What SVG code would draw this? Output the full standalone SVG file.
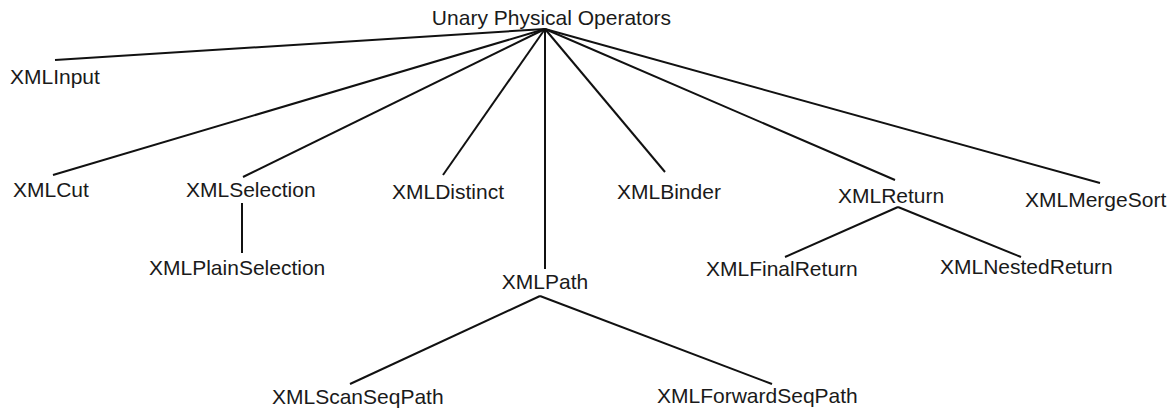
<svg xmlns="http://www.w3.org/2000/svg" width="1176" height="409" viewBox="0 0 1176 409">
<style>
.lbl{font-family:"Liberation Sans",Arial,sans-serif;font-size:21px;fill:#1a1a1a}
.edge{stroke:#111;stroke-width:2;fill:none}
</style>
<rect width="1176" height="409" fill="#fff"/>
<g id="connectors">
<line class="edge" x1="545" y1="29" x2="55" y2="60"/>
<line class="edge" x1="545" y1="29" x2="53" y2="175"/>
<line class="edge" x1="545" y1="29" x2="243" y2="177"/>
<line class="edge" x1="545" y1="29" x2="443" y2="175"/>
<line class="edge" x1="545" y1="29" x2="545" y2="269"/>
<line class="edge" x1="545" y1="29" x2="665" y2="172"/>
<line class="edge" x1="545" y1="29" x2="895" y2="180"/>
<line class="edge" x1="545" y1="29" x2="1100" y2="183"/>
<line class="edge" x1="242" y1="203" x2="242" y2="253"/>
<line class="edge" x1="898" y1="207" x2="785" y2="257"/>
<line class="edge" x1="898" y1="207" x2="1021" y2="257"/>
<line class="edge" x1="540" y1="296" x2="350" y2="384"/>
<line class="edge" x1="540" y1="296" x2="772" y2="384"/>
</g>
<g id="root"><text class="lbl" x="551.5" y="25" text-anchor="middle">Unary Physical Operators</text></g>
<g id="xmlinput"><text class="lbl" x="10" y="84">XMLInput</text></g>
<g id="xmlcut"><text class="lbl" x="13" y="197">XMLCut</text></g>
<g id="xmlselection"><text class="lbl" x="186" y="197">XMLSelection</text></g>
<g id="xmlplainselection"><text class="lbl" x="149" y="275">XMLPlainSelection</text></g>
<g id="xmldistinct"><text class="lbl" x="392" y="199">XMLDistinct</text></g>
<g id="xmlpath"><text class="lbl" x="545" y="289" text-anchor="middle">XMLPath</text></g>
<g id="xmlscanseqpath"><text class="lbl" x="272" y="404">XMLScanSeqPath</text></g>
<g id="xmlforwardseqpath"><text class="lbl" x="657" y="403">XMLForwardSeqPath</text></g>
<g id="xmlbinder"><text class="lbl" x="617" y="199">XMLBinder</text></g>
<g id="xmlreturn"><text class="lbl" x="838" y="203">XMLReturn</text></g>
<g id="xmlfinalreturn"><text class="lbl" x="706" y="276">XMLFinalReturn</text></g>
<g id="xmlnestedreturn"><text class="lbl" x="940" y="274">XMLNestedReturn</text></g>
<g id="xmlmergesort"><text class="lbl" x="1025" y="207">XMLMergeSort</text></g>
</svg>
